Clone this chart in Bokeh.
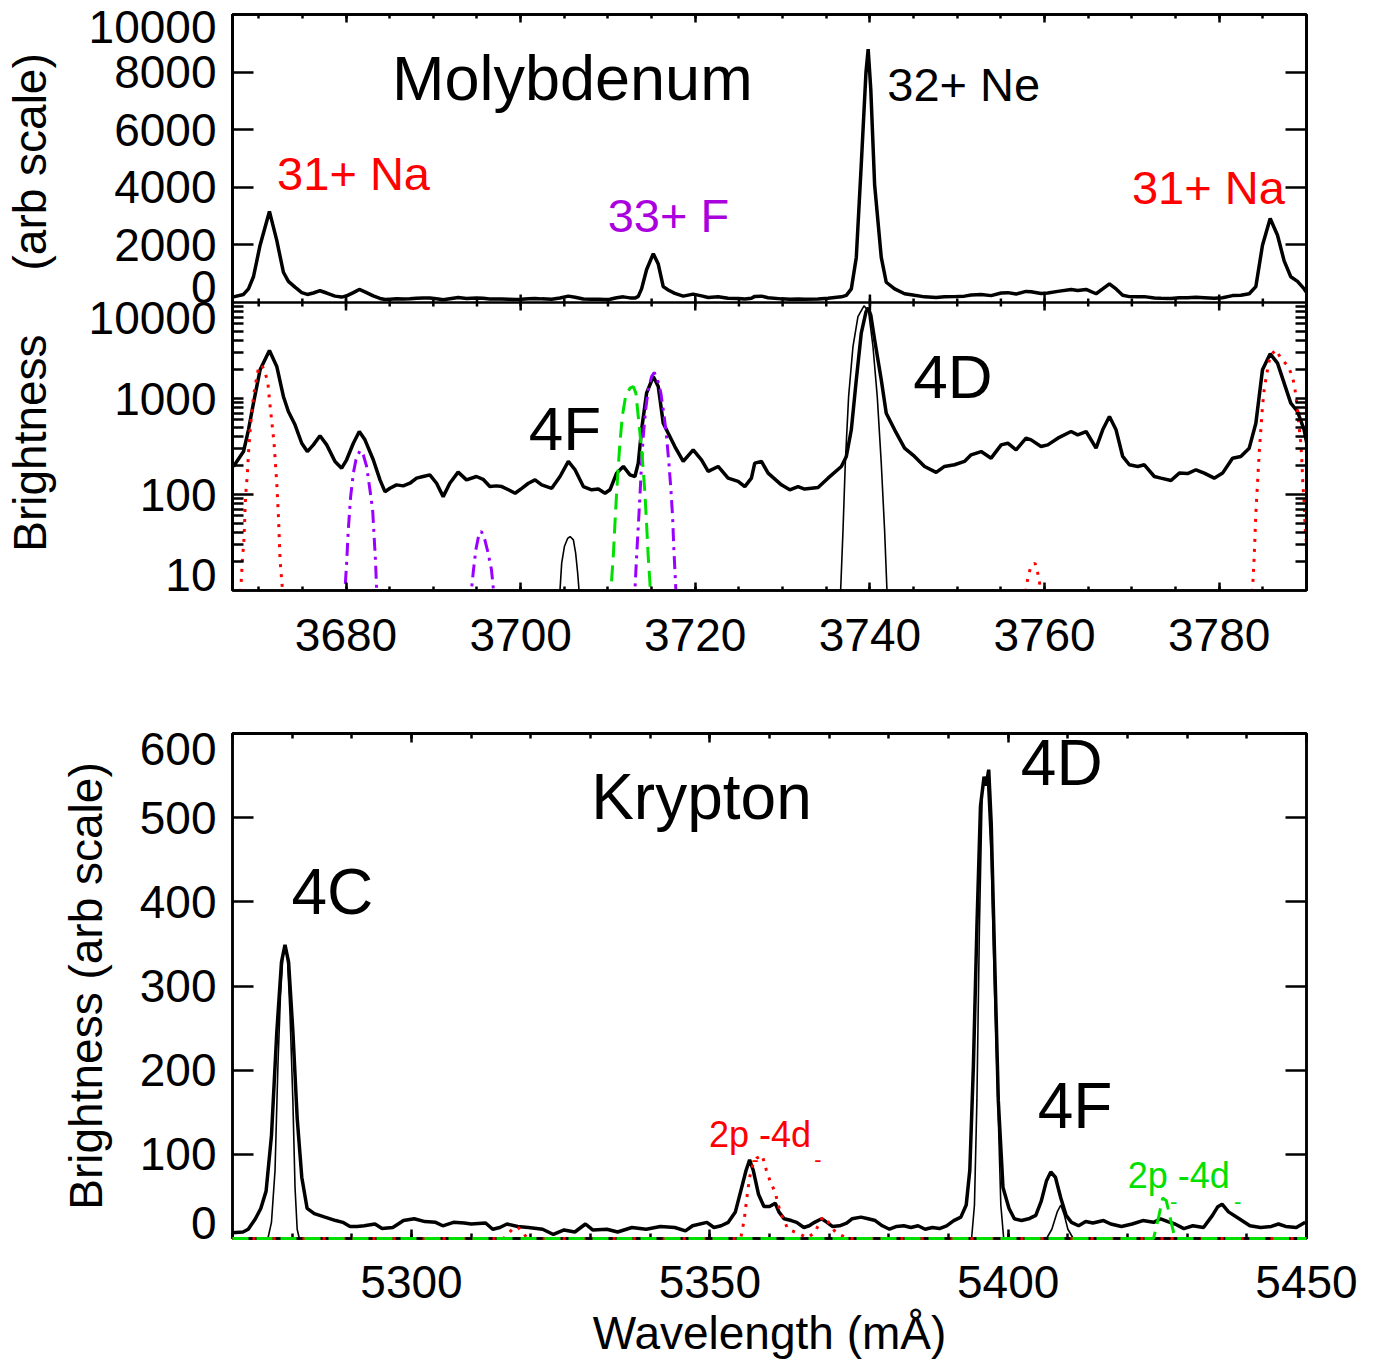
import math
from bokeh.plotting import figure
from bokeh.layouts import column
from bokeh.models import (Range1d, LinearAxis, LogAxis, FixedTicker, Label, BasicTickFormatter,
                          LinearScale, Span)
from bokeh.embed import file_html
from bokeh.resources import INLINE

FONT = "Liberation Sans"
RED = "#ff0000"
PURPLE = "#9a00ff"
PURPLE_TXT = "#aa00dd"
GREEN = "#00e000"
NB = "\u00a0"

# ---------------- Molybdenum measured spectrum (wavelength mA, brightness) ----------------
mo_wl = [3667.11, 3668.26, 3668.83, 3669.40, 3670.16, 3671.23, 3672.07, 3672.83, 3673.40, 3674.16,
         3674.93, 3675.57, 3676.26, 3677.02, 3677.79, 3678.74, 3679.50, 3680.07, 3680.84, 3681.52,
         3682.17, 3683.12, 3683.89, 3684.46, 3685.03, 3685.79, 3686.55, 3687.32, 3688.08, 3688.84,
         3689.60, 3690.37, 3691.13, 3691.89, 3692.84, 3693.80, 3694.94, 3695.70, 3696.47, 3697.23,
         3697.84, 3698.60, 3699.37, 3700.13, 3700.89, 3701.65, 3702.41, 3703.56, 3704.51, 3705.46,
         3706.23, 3707.18, 3708.13, 3708.90, 3709.66, 3710.23, 3710.99, 3711.76, 3712.52, 3713.09,
         3713.47, 3713.85, 3714.42, 3715.19, 3715.76, 3716.33, 3716.90, 3717.66, 3718.62, 3719.76,
         3720.71, 3721.48, 3722.62, 3723.76, 3724.91, 3725.67, 3726.43, 3726.81, 3727.58, 3728.34,
         3729.86, 3730.82, 3731.77, 3732.53, 3734.06, 3735.20, 3736.73, 3737.30, 3737.87, 3738.44,
         3739.01, 3739.55, 3739.80, 3740.10, 3740.54, 3741.30, 3741.87, 3742.83, 3743.97, 3745.11,
         3746.26, 3747.59, 3748.54, 3749.69, 3750.83, 3751.59, 3752.74, 3753.88, 3755.03, 3755.79,
         3756.74, 3757.88, 3758.46, 3759.60, 3760.37, 3761.52, 3763.04, 3763.80, 3764.76, 3765.90,
         3766.66, 3767.43, 3768.19, 3768.95, 3769.71, 3770.67, 3771.43, 3772.57, 3773.33, 3774.48,
         3775.43, 3776.38, 3777.34, 3778.29, 3779.43, 3780.39, 3781.53, 3782.48, 3783.44, 3784.20,
         3784.96, 3785.84, 3786.68, 3787.44, 3788.20, 3788.97, 3789.73, 3790.03]
mo_br = [196, 280, 472, 894, 1990, 3162, 2155, 1050, 732, 532,
         342, 280, 329, 409, 329, 221, 188, 230, 342, 453,
         371, 230, 142, 107, 116, 126, 123, 131, 148, 154,
         160, 131, 95, 131, 171, 142, 154, 144, 121, 123,
         121, 112, 103, 116, 131, 142, 126, 116, 154, 221,
         181, 121, 112, 114, 103, 112, 167, 196, 160, 154,
         212, 472, 1137, 1695, 1334, 553, 435, 316, 221, 292,
         230, 174, 196, 148, 137, 121, 148, 212, 221, 167,
         126, 112, 121, 114, 118, 148, 196, 249, 472, 1565,
         4797, 8000, 8800, 7400, 4087, 1565, 703, 472, 304, 249,
         196, 170, 196, 204, 221, 259, 280, 239, 329, 342,
         292, 386, 371, 316, 329, 386, 453, 418, 453, 304,
         472, 649, 472, 249, 204, 196, 204, 154, 148, 140,
         167, 165, 181, 167, 148, 167, 239, 249, 304, 553,
         1990, 2920, 2335, 1445, 894, 732, 472, 342]

# ---------------- Molybdenum model lines (log panel) ----------------
# 31+ Na-like (red dotted)
na_wl = [[3667.80, 3667.95, 3668.15, 3668.28, 3668.37, 3668.45, 3668.52, 3668.71, 3668.83, 3669.02,
          3669.40, 3669.59, 3669.97, 3670.35, 3670.65, 3671.04, 3671.23, 3671.50, 3671.76, 3672.07,
          3672.26, 3672.45, 3672.72, 3672.85],
         [3757.80, 3757.89, 3758.08, 3758.38, 3758.91, 3759.22, 3759.45, 3759.55],
         [3783.75, 3783.82, 3784.01, 3784.20, 3784.39, 3784.58, 3784.77, 3784.96, 3785.15, 3785.46,
          3785.84, 3786.49, 3787.06, 3787.90, 3788.39, 3788.66, 3788.89, 3789.04, 3789.19, 3789.35,
          3789.46, 3789.58, 3789.73, 3789.84, 3790.00]]
na_br = [[6, 10.2, 22.6, 30, 46, 75, 103, 167, 270, 472,
          1050, 1334, 2070, 2240, 1950, 1503, 968, 575, 342, 131,
          59, 20.8, 10.2, 6],
         [6, 10.2, 13.4, 17.1, 19.3, 15.2, 11.7, 8],
         [6, 10.2, 22.6, 64, 131, 270, 472, 826, 1231, 1836,
          2782, 3213, 2630, 2155, 1695, 1282, 894, 649, 472, 342,
          230, 131, 81, 46, 30]]
# 33+ F-like (purple dash-dot)
f_wl = [[3679.80, 3679.88, 3680.07, 3680.26, 3680.53, 3680.84, 3681.14, 3681.60, 3681.98, 3682.36,
         3682.74, 3683.05, 3683.20, 3683.39, 3683.50, 3683.58],
        [3694.30, 3694.37, 3694.56, 3694.87, 3695.25, 3695.51, 3695.90, 3696.28, 3696.66, 3696.85, 3696.95],
        [3713.00, 3713.09, 3713.28, 3713.47, 3713.66, 3713.85, 3714.04, 3714.31, 3714.61, 3715.00,
         3715.30, 3715.68, 3716.06, 3716.44, 3716.71, 3716.98, 3717.21, 3717.40, 3717.55, 3717.74, 3717.82]]
f_br = [[6, 10.2, 19.3, 42.8, 95, 167, 230, 287, 259, 196,
         112, 69, 39.5, 19.3, 10.2, 6],
        [7, 10.2, 15.2, 26.6, 39.5, 41.2, 33.7, 24.5, 16.4, 11.0, 8],
        [7, 10.2, 22.6, 46.4, 95, 212, 402, 762, 1231, 1695,
         1866, 1565, 1137, 649, 402, 212, 112, 59, 26.6, 11.9, 8]]
# green dashed line
g_wl = [3710.28, 3710.34, 3710.61, 3710.80, 3710.99, 3711.18, 3711.37, 3711.64, 3712.02, 3712.52,
        3712.90, 3713.20, 3713.47, 3713.78, 3714.04, 3714.23, 3714.42, 3714.61, 3714.81, 3714.88]
g_br = [7, 10.2, 22.6, 50, 103, 196, 342, 649, 1050, 1282,
        1334, 1137, 649, 342, 181, 103, 50, 22.6, 11.9, 8]
# 32+ Ne-like (thin black)
ne_wl = [[3704.45, 3704.51, 3704.70, 3705.01, 3705.39, 3705.66, 3706.04, 3706.30, 3706.53, 3706.68, 3706.74],
         [3736.60, 3736.65, 3736.92, 3737.18, 3737.56, 3738.06, 3738.63, 3739.32, 3739.85, 3740.35,
          3740.84, 3741.30, 3741.68, 3741.95, 3742.00]]
ne_br = [[7, 10.2, 19.3, 28.7, 35, 36.5, 33.7, 24.5, 15.2, 10.2, 7],
         [7, 10.2, 42.8, 212, 1050, 3480, 7140, 9230, 8050, 3480,
          1050, 212, 42.8, 10.2, 7]]

# ---------------- Krypton ----------------
kr_wl = [5269.95, 5271.75, 5272.64, 5273.84, 5274.74, 5275.63, 5276.53, 5277.43, 5278.21, 5278.80,
         5279.40, 5280.12, 5280.84, 5281.61, 5282.51, 5283.71, 5285.50, 5287.30, 5288.49, 5289.69,
         5290.89, 5292.08, 5293.88, 5295.07, 5296.87, 5298.66, 5300.45, 5302.25, 5304.04, 5305.24,
         5307.03, 5308.83, 5310.02, 5312.42, 5313.61, 5314.81, 5316.00, 5317.80, 5319.59, 5321.98,
         5323.78, 5325.57, 5327.37, 5329.16, 5330.36, 5332.75, 5334.55, 5336.94, 5339.33, 5341.72,
         5344.12, 5345.91, 5347.11, 5349.50, 5350.69, 5351.89, 5353.09, 5354.28, 5355.18, 5356.08,
         5356.67, 5357.27, 5358.17, 5359.07, 5360.00, 5360.97, 5361.57, 5362.47, 5363.66, 5364.56,
         5365.76, 5366.65, 5367.55, 5368.75, 5369.64, 5370.54, 5371.74, 5372.93, 5373.83, 5375.33,
         5376.52, 5377.72, 5378.91, 5380.11, 5381.31, 5382.50, 5383.70, 5384.90, 5386.09, 5387.29,
         5388.48, 5389.68, 5390.88, 5392.07, 5392.97, 5393.57, 5394.17, 5394.76, 5395.36, 5395.96,
         5396.30, 5396.74, 5397.16, 5397.75, 5398.35, 5399.13, 5400.15, 5401.04, 5402.24, 5403.44,
         5404.63, 5405.53, 5406.43, 5407.14, 5407.92, 5408.82, 5409.71, 5410.61, 5411.81, 5413.00,
         5414.20, 5415.99, 5417.19, 5418.99, 5420.78, 5422.57, 5424.37, 5425.56, 5426.76, 5427.96,
         5429.45, 5430.95, 5432.74, 5434.24, 5435.14, 5435.85, 5436.93, 5438.72, 5440.52, 5442.31,
         5444.11, 5445.30, 5446.50, 5448.29, 5449.79]
kr_br = [6.9, 7.7, 11.0, 23.4, 35.7, 56.3, 122.3, 245.9, 328.3, 348.9,
         328.3, 245.9, 142.9, 72.8, 35.7, 29.6, 25.4, 21.3, 19.2, 14.3,
         14.3, 15.1, 17.2, 11.8, 13.1, 21.3, 23.4, 20.1, 19.2, 15.1,
         19.2, 18.4, 17.2, 18.4, 11.0, 13.1, 17.2, 14.3, 13.1, 11.0,
         4.8, 10.2, 7.7, 17.2, 10.2, 11.0, 7.7, 13.1, 11.0, 14.3,
         13.1, 9.0, 15.1, 19.2, 13.1, 15.1, 19.2, 31.6, 56.3, 81.1,
         93.4, 81.1, 52.2, 38.0, 38.0, 41.9, 31.6, 23.4, 21.3, 19.2,
         13.1, 15.1, 19.2, 23.4, 19.2, 14.3, 15.1, 18.4, 23.4, 25.4,
         23.4, 21.3, 15.1, 11.0, 14.3, 15.1, 13.1, 15.1, 11.0, 13.1,
         11.8, 15.1, 21.3, 25.4, 39.8, 81.1, 204.7, 369.5, 513.7, 548.7,
         538.0, 557.0, 493.1, 328.3, 163.5, 60.5, 35.7, 23.4, 21.3, 23.4,
         27.5, 44.0, 68.7, 79.0, 72.8, 48.1, 27.5, 19.2, 15.1, 20.1,
         18.4, 21.3, 17.2, 14.3, 17.2, 21.3, 19.2, 23.4, 20.1, 17.2,
         11.8, 15.1, 13.1, 27.5, 37.8, 40.7, 31.6, 23.4, 15.1, 13.1,
         14.3, 17.2, 14.3, 13.1, 19.2]
# model (thin black)
krm_wl = [5270.0, 5275.93, 5276.53, 5277.13, 5277.61, 5278.03, 5278.45, 5278.80, 5279.22, 5279.64,
          5280.12, 5280.48, 5280.84, 5281.20, 5393.87, 5394.35, 5394.76, 5395.18, 5395.66, 5396.14,
          5396.56, 5397.16, 5397.75, 5398.35, 5398.77, 5399.25, 5406.43, 5407.32, 5408.22, 5408.82,
          5409.42, 5410.01, 5410.91, 5450.0]
krm_br = [0, 0, 19.2, 81.1, 204.7, 287.1, 336.5, 346.8, 332.4, 266.5,
          163.5, 60.5, 11, 0, 0, 39.8, 163.5, 369.5, 534.3, 546.7,
          540, 451.9, 287.1, 142.9, 39.8, 0, 0, 11, 31.6, 39.8,
          27.5, 11, 0, 0]
# 2p-4d (red dotted)
krr_wl = [5270.0, 5315.40, 5316.00, 5316.90, 5317.80, 5318.70, 5319.29, 5320.00, 5355.18, 5355.78,
          5356.20, 5356.67, 5357.27, 5357.87, 5358.77, 5359.48, 5360.08, 5360.97, 5361.40, 5361.87,
          5362.47, 5363.07, 5364.56, 5366.36, 5367.55, 5368.75, 5369.35, 5370.24, 5371.14, 5372.93,
          5373.50, 5450.0]
krr_br = [0, 0, 4, 11, 14, 7, 1, 0, 0, 23.4,
          48.1, 72.8, 89.3, 95.5, 99, 81.1, 68.7, 54.3, 41.9, 29.6,
          21.3, 11.0, 6.9, 0.7, 6.9, 23.4, 25.4, 15.1, 6.9, 0.7,
          0, 0]
# 2p-4d (green dashed)
krg_wl = [5270.0, 5424.37, 5425.20, 5425.90, 5426.50, 5427.30, 5427.96, 5450.0]
krg_br = [0, 0, 25, 48, 45, 20, 0, 0]

# ---------------- tick definitions ----------------
mo_x_major = [3680, 3700, 3720, 3740, 3760, 3780]
mo_x_minor = list(range(3670, 3791, 5))
mo_lin_ticks = [0, 2000, 4000, 6000, 8000, 10000]
mo_log_major = [10, 100, 1000, 10000]
mo_log_minor = [m * d for d in (10, 100, 1000) for m in range(2, 10)]
kr_x_major = [5300, 5350, 5400, 5450]
kr_x_minor = list(range(5270, 5451, 10))
kr_y_ticks = [0, 100, 200, 300, 400, 500, 600]

# The two molybdenum panels share one frame: the lower half uses the log range
# 10..10^4 (one decade per 1/6 of the frame), the upper half the linear range 0..10000.
LOG_LO, LOG_HI = 10, 1e7
LIN_LO, LIN_HI = -10000, 10000


def lin_to_logpos(v):
    """Position on the shared (log) y range that matches linear value v of the upper panel."""
    frac = (v - LIN_LO) / (LIN_HI - LIN_LO)
    return 10 ** (math.log10(LOG_LO) + frac * (math.log10(LOG_HI) - math.log10(LOG_LO)))


def make_fig(xr, yr, height, top, bottom, log=False, **kw):
    p = figure(width=1375, height=height, x_range=Range1d(*xr), y_range=Range1d(*yr),
               y_axis_type="log" if log else "linear",
               x_axis_location=None, y_axis_location=None,
               min_border_left=231, min_border_right=69,
               min_border_top=top, min_border_bottom=bottom,
               output_backend="svg", toolbar_location=None, **kw)
    p.outline_line_color = "black"
    p.outline_line_width = 2.5
    p.background_fill_color = "white"
    p.border_fill_color = "white"
    p.grid.visible = False
    return p


def ticks_only(p, side, positions, length, log=False):
    """Axis that only draws inward tick marks (no labels, no size)."""
    cls = LogAxis if log else LinearAxis
    ax = cls(ticker=FixedTicker(ticks=[], minor_ticks=positions), formatter=BasicTickFormatter())
    ax.major_tick_in = 0
    ax.major_tick_out = 0
    ax.minor_tick_in = length
    ax.minor_tick_out = 0
    ax.axis_line_width = 2.5
    ax.minor_tick_line_width = 2.5
    ax.major_label_standoff = 0
    p.add_layout(ax, side)
    return ax


def labeled_axis(p, side, ticks, minor, tin, tmin, log=False, standoff=16,
                 title=None, title_standoff=0, overrides=None):
    cls = LogAxis if log else LinearAxis
    ax = cls(ticker=FixedTicker(ticks=ticks, minor_ticks=minor), formatter=BasicTickFormatter())
    ax.major_tick_in = tin
    ax.major_tick_out = 0
    ax.minor_tick_in = tmin
    ax.minor_tick_out = 0
    ax.axis_line_width = 2.5
    ax.major_tick_line_width = 2.5
    ax.minor_tick_line_width = 2.5
    ax.major_label_text_font = FONT
    ax.major_label_text_font_size = "46px"
    ax.major_label_text_color = "black"
    ax.major_label_standoff = standoff
    if overrides:
        ax.major_label_overrides = overrides
        ax.major_label_text_line_height = 0.6
    if title:
        ax.axis_label = title
        ax.axis_label_text_font = FONT
        ax.axis_label_text_font_size = "46px"
        ax.axis_label_text_font_style = "normal"
        ax.axis_label_text_color = "black"
        ax.axis_label_standoff = title_standoff
    p.add_layout(ax, side)
    return ax


def lab(p, x, y, text, size, color="black", align="left", baseline="alphabetic", rng="default"):
    yo = round(0.365 * size) if baseline == "alphabetic" else 0
    p.add_layout(Label(x=x, y=y, text=text, text_font=FONT, text_font_size=f"{size}px",
                       text_color=color, text_align=align, text_baseline=baseline,
                       y_offset=yo, y_range_name=rng))


MO_X = (3667.0, 3790.0)
KR_X = (5270.0, 5450.0)

# ================= Molybdenum (two stacked panels in one frame) =================
p12 = make_fig(MO_X, (LOG_LO, LOG_HI), 670, 14, 80, log=True,
               extra_y_ranges={"lin": Range1d(LIN_LO, LIN_HI)},
               extra_y_scales={"lin": LinearScale()})

lin_pos = [lin_to_logpos(v) for v in mo_lin_ticks]
long_left = [100] + lin_pos[1:-1]
short_left = mo_log_minor + [1000]
ticks_only(p12, "left", long_left, 21, log=True)
ticks_only(p12, "left", short_left, 11, log=True)
left_ticks = mo_log_major[:-1] + lin_pos
overrides = {10: "10\n" + NB, 100: "100", 1000: "1000",
             lin_pos[0]: "0\n10000"}
for v, pos in zip(mo_lin_ticks[1:], lin_pos[1:]):
    overrides[pos] = str(v)
labeled_axis(p12, "left", left_ticks, [], 0, 0, log=True,
             title="Brightness" + NB * 5 + "(arb scale)", title_standoff=30,
             overrides=overrides)
ticks_only(p12, "right", long_left, 21, log=True)
ticks_only(p12, "right", short_left, 11, log=True)
ticks_only(p12, "above", mo_x_major, 8)
ticks_only(p12, "above", mo_x_minor, 4)
labeled_axis(p12, "below", mo_x_major, mo_x_minor, 8, 4, standoff=28)

# boundary between the two panels, with tick marks pointing into both panels
p12.add_layout(Span(location=0, dimension="width", y_range_name="lin",
                    line_color="black", line_width=2.5))
p12.scatter(mo_x_minor, [0] * len(mo_x_minor), y_range_name="lin", marker="dash",
            angle=math.pi / 2, size=8, line_color="black", line_width=2.5)
p12.scatter(mo_x_major, [0] * len(mo_x_major), y_range_name="lin", marker="dash",
            angle=math.pi / 2, size=16, line_color="black", line_width=2.5)

# upper (linear) panel
p12.line(mo_wl, mo_br, line_color="black", line_width=3.5, y_range_name="lin")
lab(p12, 3685.26, 6998, "Molybdenum", 63, rng="lin")
lab(p12, 3741.99, 6968, "32+ Ne", 47, rng="lin")
lab(p12, 3672.11, 3902, "31+ Na", 47, color=RED, rng="lin")
lab(p12, 3709.97, 2439, "33+ F", 47, color=PURPLE_TXT, rng="lin")
lab(p12, 3770.01, 3414, "31+ Na", 47, color=RED, rng="lin")

# lower (log) panel
p12.line(mo_wl, mo_br, line_color="black", line_width=3.5)
p12.multi_line(ne_wl, ne_br, line_color="black", line_width=1.6)
p12.multi_line(na_wl, na_br, line_color=RED, line_width=3, line_dash="3 7")
p12.multi_line(f_wl, f_br, line_color=PURPLE, line_width=3, line_dash="13 6 3 6")
p12.line(g_wl, g_br, line_color=GREEN, line_width=3, line_dash="16 8")
lab(p12, 3700.93, 281, "4F", 62)
lab(p12, 3744.97, 977, "4D", 62)

# ================= Krypton =================
p3 = make_fig(KR_X, (0, 600), 693, 63, 125)
labeled_axis(p3, "left", kr_y_ticks, [], 21, 0, title="Brightness (arb scale)", title_standoff=25,
             overrides={0: "0\n" + NB, 600: NB + "\n600"})
ticks_only(p3, "right", kr_y_ticks, 21)
labeled_axis(p3, "below", kr_x_major, kr_x_minor, 9, 5, standoff=27,
             title="Wavelength (mÅ)", title_standoff=6)
ticks_only(p3, "above", kr_x_major, 9)
ticks_only(p3, "above", kr_x_minor, 5)
p3.line(kr_wl, kr_br, line_color="black", line_width=3.5)
p3.line(krm_wl, krm_br, line_color="black", line_width=1.6)
# model curves drawn above the frame line so that their zero baseline stays visible
p3.line(krr_wl, krr_br, line_color=RED, line_width=3, line_dash="3 7", level="overlay")
p3.line(krg_wl, krg_br, line_color=GREEN, line_width=3, line_dash="16 8", level="overlay")
lab(p3, 5330.11, 497.6, "Krypton", 64)
lab(p3, 5279.88, 384.5, "4C", 64)
lab(p3, 5402.12, 538, "4D", 64)
lab(p3, 5404.96, 129.8, "4F", 64)
lab(p3, 5349.87, 108.3, "2p -4d", 36, color=RED)
lab(p3, 5357.58, 94, "-", 22, color=RED, align="center", baseline="middle")
lab(p3, 5368.13, 94, "-", 22, color=RED, align="center", baseline="middle")
lab(p3, 5420.03, 59.5, "2p -4d", 36, color=GREEN)
lab(p3, 5427.73, 44, "-", 22, color=GREEN, align="center", baseline="middle")
lab(p3, 5438.45, 44, "-", 22, color=GREEN, align="center", baseline="middle")

layout = column(p12, p3, spacing=0)
open("out.html", "w").write(file_html(layout, INLINE))
